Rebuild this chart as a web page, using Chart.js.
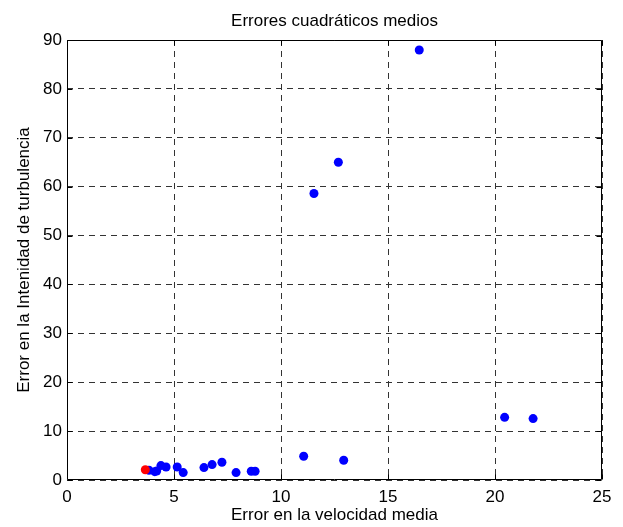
<!DOCTYPE html>
<html>
<head>
<meta charset="utf-8">
<script src="https://cdn.jsdelivr.net/npm/chart.js@4/dist/chart.umd.min.js"></script>
<style>
  html, body { margin: 0; padding: 0; background: #fff; }
  #wrap { width: 623px; height: 527px; position: relative; }
</style>
</head>
<body>
<div id="wrap"><canvas id="c" width="623" height="527"></canvas></div>
<script>
// Mean velocity error (x) vs turbulence intensity error (y) for each case
const velocityError = [3.83, 4.10, 4.19, 4.39, 4.63, 5.15, 5.43, 6.40, 6.78, 7.24, 7.90, 8.61, 8.79, 11.06, 12.93, 11.54, 12.68, 16.46, 20.45, 21.78];
const turbulenceError = [2.0, 1.7, 1.84, 2.95, 2.66, 2.66, 1.51, 2.54, 3.15, 3.62, 1.51, 1.78, 1.78, 4.85, 4.03, 58.6, 65.0, 87.95, 12.82, 12.56];

// Highlighted case
const bestVelocity = [3.66];
const bestTurbulence = [2.1];

const xTicks = [0, 5, 10, 15, 20, 25];
const yTicks = [0, 10, 20, 30, 40, 50, 60, 70, 80, 90];

const chartTitle = 'Errores cuadráticos medios';

const toPoints = (xs, ys) => xs.map((x, i) => ({ x: x, y: ys[i] }));

const FONT = 'Liberation Sans, Arial, sans-serif';
const SIZE = 17;

// Solid frame round the axes, short inward tick marks on all four sides,
// and the title centred over the plotting area
const framePlugin = {
  id: 'frame',
  afterDatasetsDraw(chart) {
    const { ctx, chartArea: a, scales } = chart;
    ctx.save();
    ctx.strokeStyle = '#000';
    ctx.lineWidth = 1;
    ctx.setLineDash([]);
    ctx.beginPath();
    const L = Math.round(a.left) + 0.5, R = Math.round(a.right) - 0.5;
    const T = Math.round(a.top) + 0.5, B = Math.round(a.bottom) - 0.5;
    ctx.rect(L, T, R - L, B - T);
    const tl = 5;
    xTicks.forEach(v => {
      const px = Math.round(scales.x.getPixelForValue(v)) + 0.5;
      ctx.moveTo(px, B); ctx.lineTo(px, B - tl);
      ctx.moveTo(px, T); ctx.lineTo(px, T + tl);
    });
    yTicks.forEach(v => {
      const py = Math.round(scales.y.getPixelForValue(v)) + 0.5;
      ctx.moveTo(L, py); ctx.lineTo(L + tl, py);
      ctx.moveTo(R, py); ctx.lineTo(R - tl, py);
    });
    ctx.stroke();

    ctx.fillStyle = '#000';
    ctx.font = SIZE + 'px ' + FONT;
    ctx.textAlign = 'center';
    ctx.textBaseline = 'middle';
    ctx.fillText(chartTitle, (a.left + a.right) / 2, 21);
    ctx.restore();
  }
};

new Chart(document.getElementById('c'), {
  type: 'scatter',
  data: {
    datasets: [
      {
        data: toPoints(velocityError, turbulenceError),
        backgroundColor: '#0000ff',
        borderColor: '#0000ff',
        pointRadius: 4.5,
        borderWidth: 0,
        order: 2
      },
      {
        // drawn above the blue cloud
        data: toPoints(bestVelocity, bestTurbulence),
        backgroundColor: '#ff0000',
        borderColor: '#ff0000',
        pointRadius: 4.5,
        borderWidth: 0,
        order: 1
      }
    ]
  },
  options: {
    responsive: false,
    animation: false,
    devicePixelRatio: 1,
    layout: { padding: { left: 0, right: 21, top: 40, bottom: 0 } },
    plugins: {
      legend: { display: false },
      tooltip: { enabled: false },
      title: { display: false }
    },
    scales: {
      x: {
        type: 'linear',
        min: 0, max: 25,
        afterBuildTicks: s => { s.ticks = xTicks.map(v => ({ value: v })); },
        afterFit: s => { s.height = 47; },
        grid: { color: '#333', lineWidth: 1, drawTicks: false },
        border: { display: false, dash: [6, 5] },
        ticks: { color: '#000', font: { family: FONT, size: SIZE }, padding: 7, maxRotation: 0 },
        title: {
          display: true,
          text: 'Error en la velocidad media',
          color: '#000',
          font: { family: FONT, size: SIZE },
          padding: { top: 0, bottom: 1 }
        }
      },
      y: {
        type: 'linear',
        min: 0, max: 90,
        afterBuildTicks: s => { s.ticks = yTicks.map(v => ({ value: v })); },
        afterFit: s => { s.width = 67; },
        grid: { color: '#333', lineWidth: 1, drawTicks: false },
        border: { display: false, dash: [6, 5] },
        ticks: { color: '#000', font: { family: FONT, size: SIZE }, padding: 5 },
        title: {
          display: true,
          text: 'Error en la Intenidad de turbulencia',
          color: '#000',
          font: { family: FONT, size: SIZE },
          padding: { top: 14, bottom: 0 }
        }
      }
    }
  },
  plugins: [framePlugin]
});
</script>
</body>
</html>
